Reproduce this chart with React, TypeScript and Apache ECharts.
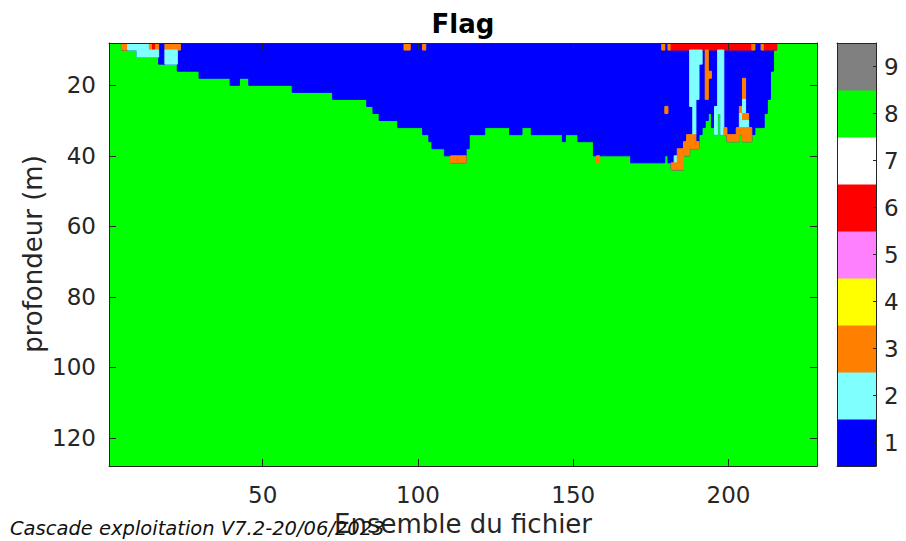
import React, { useEffect, useRef } from "react";
import * as echarts from "echarts";

// Flag colour table, index = flag value - 1
const FLAG_COLORS = [
  "#0000ff", // 1
  "#80ffff", // 2
  "#ff8000", // 3
  "#ffff00", // 4
  "#ff80ff", // 5
  "#ff0000", // 6
  "#ffffff", // 7
  "#00ff00", // 8
  "#808080", // 9
];
const FLAG_VALUES = [1, 2, 3, 4, 5, 6, 7, 8, 9];

// Ensembles and depth cells
const ENSEMBLE_COUNT = 228;
const DEPTH_TOP = 8;
const DEPTH_BOTTOM = 128;
const X_TICKS = [50, 100, 150, 200];
const Y_TICKS = [20, 40, 60, 80, 100, 120];

// Flag 1 from the surface down to this depth; flag 8 below it.
// [first ensemble, last ensemble, depth (m)]
const FLAG1_BOTTOM: [number, number, number][] = [
  [1, 4, 8], [5, 9, 10], [10, 16, 12], [17, 22, 14], [23, 29, 16],
  [30, 39, 18], [40, 42, 20], [43, 45, 18], [46, 59, 20], [60, 72, 22],
  [73, 83, 24], [84, 85, 26], [86, 87, 28], [88, 93, 30], [94, 101, 32],
  [102, 103, 34], [104, 104, 36], [105, 108, 38], [109, 110, 40], [111, 115, 42],
  [116, 116, 38], [117, 121, 34], [122, 129, 32], [130, 133, 34], [134, 136, 32],
  [137, 146, 34], [147, 147, 36], [148, 151, 34], [152, 156, 36], [157, 168, 40],
  [169, 179, 42], [180, 180, 40], [181, 181, 42], [182, 185, 44], [186, 187, 40],
  [188, 190, 38], [191, 191, 34], [192, 192, 32], [193, 193, 30], [194, 194, 28],
  [195, 195, 32], [196, 196, 34], [197, 197, 28], [198, 199, 34], [200, 203, 36],
  [204, 204, 34], [205, 207, 36], [208, 208, 34], [209, 211, 32], [212, 212, 28],
  [213, 213, 24], [214, 214, 16], [215, 215, 10], [216, 228, 8],
];

// Other flags: [first ensemble, last ensemble, depth from, depth to, flag]
const FLAG_PATCHES: [number, number, number, number, number][] = [
  [5, 6, 8, 10, 3], [7, 13, 8, 10, 2], [14, 14, 8, 10, 3], [15, 15, 8, 10, 6],
  [16, 16, 8, 10, 3], [19, 23, 8, 10, 3], [96, 97, 8, 10, 3], [102, 102, 8, 10, 3],
  [179, 179, 8, 10, 3], [181, 181, 8, 10, 3], [182, 207, 8, 10, 6], [208, 208, 8, 10, 3],
  [211, 211, 8, 10, 3], [212, 215, 8, 10, 6],
  [10, 16, 10, 12, 2], [19, 22, 10, 14, 2],
  [111, 115, 40, 42, 3], [158, 158, 40, 42, 3], [180, 180, 26, 28, 3],
  [182, 182, 42, 44, 3], [183, 183, 40, 42, 2], [183, 183, 42, 44, 3],
  [184, 185, 38, 44, 3], [186, 186, 36, 40, 3], [187, 187, 34, 40, 3],
  [188, 188, 10, 26, 2], [188, 188, 34, 38, 3],
  [189, 189, 10, 34, 2], [189, 189, 34, 38, 3],
  [190, 190, 10, 24, 2], [190, 190, 36, 38, 3],
  [191, 191, 10, 14, 2], [193, 193, 10, 24, 3], [194, 194, 16, 18, 3],
  [196, 196, 26, 34, 2], [197, 197, 10, 28, 2], [198, 198, 10, 34, 2],
  [199, 199, 32, 34, 3], [200, 202, 34, 36, 3], [203, 203, 32, 36, 3],
  [204, 204, 26, 28, 3], [204, 204, 28, 32, 2], [204, 204, 32, 34, 3],
  [205, 205, 18, 24, 3], [205, 205, 24, 28, 2], [205, 205, 28, 30, 3],
  [205, 205, 30, 32, 2], [205, 205, 32, 36, 3],
  [206, 206, 28, 30, 3], [206, 206, 30, 32, 2], [206, 206, 32, 36, 3],
  [207, 207, 32, 36, 3],
];

const FONT = '"DejaVu Sans", sans-serif';
const INK = "#262626";

type Cell = [number, number, number, number, number];

// Flag 8 fills every column under the flag-1 layer; the patches go on top.
function buildCells(): Cell[] {
  const cells: Cell[] = [];
  for (const [e0, e1, depth] of FLAG1_BOTTOM) {
    cells.push([e0 - 0.5, e1 + 0.5, depth, DEPTH_BOTTOM, 8]);
  }
  for (const [e0, e1, depth] of FLAG1_BOTTOM) {
    if (depth > DEPTH_TOP) cells.push([e0 - 0.5, e1 + 0.5, DEPTH_TOP, depth, 1]);
  }
  for (const [e0, e1, d0, d1, f] of FLAG_PATCHES) {
    cells.push([e0 - 0.5, e1 + 0.5, d0, d1, f]);
  }
  return cells;
}

function renderCell(params: any, api: any) {
  const p0 = api.coord([api.value(0), api.value(2)]);
  const p1 = api.coord([api.value(1), api.value(3)]);
  const color = FLAG_COLORS[api.value(4) - 1];
  const shape = echarts.graphic.clipRectByRect(
    {
      x: Math.min(p0[0], p1[0]),
      y: Math.min(p0[1], p1[1]),
      width: Math.abs(p1[0] - p0[0]),
      height: Math.abs(p1[1] - p0[1]),
    },
    params.coordSys
  );
  if (!shape) return null;
  return {
    type: "rect",
    shape,
    style: { fill: color, stroke: color, lineWidth: 1 },
  };
}

function boxAxis(extra: any) {
  return {
    z: 10,
    splitLine: { show: false },
    axisLine: { show: true, onZero: false, lineStyle: { color: INK, width: 1 } },
    ...extra,
  };
}

export default function App() {
  const ref = useRef<HTMLDivElement>(null);

  useEffect(() => {
    if (!ref.current) return;
    const chart = echarts.init(ref.current, null, { renderer: "svg" });

    const tickLabel = { fontFamily: FONT, fontSize: 23, color: INK };

    chart.setOption({
      animation: false,
      backgroundColor: "#ffffff",
      grid: [
        { left: 109, top: 43, width: 708, height: 423, show: true, backgroundColor: FLAG_COLORS[7], borderWidth: 0 },
        { left: 837, top: 43, width: 39, height: 423 },
      ],
      xAxis: [
        boxAxis({
          gridIndex: 0, type: "value", position: "bottom",
          min: 0.5, max: ENSEMBLE_COUNT + 0.5,
          axisTick: { show: true, inside: true, length: 7, customValues: X_TICKS, lineStyle: { color: INK } },
          axisLabel: { show: true, margin: 17, customValues: X_TICKS, ...tickLabel },
        }),
        boxAxis({
          gridIndex: 0, type: "value", position: "top",
          min: 0.5, max: ENSEMBLE_COUNT + 0.5,
          axisTick: { show: true, inside: true, length: 7, customValues: X_TICKS, lineStyle: { color: INK } },
          axisLabel: { show: false },
        }),
        boxAxis({
          gridIndex: 1, type: "value", position: "bottom", min: 0, max: 1,
          axisTick: { show: false }, axisLabel: { show: false },
        }),
        boxAxis({
          gridIndex: 1, type: "value", position: "top", min: 0, max: 1,
          axisTick: { show: false }, axisLabel: { show: false },
        }),
      ],
      yAxis: [
        boxAxis({
          gridIndex: 0, type: "value", position: "left", inverse: true,
          min: DEPTH_TOP, max: DEPTH_BOTTOM,
          axisTick: { show: true, inside: true, length: 7, customValues: Y_TICKS, lineStyle: { color: INK } },
          axisLabel: { show: true, margin: 13, customValues: Y_TICKS, ...tickLabel },
        }),
        boxAxis({
          gridIndex: 0, type: "value", position: "right", inverse: true,
          min: DEPTH_TOP, max: DEPTH_BOTTOM,
          axisTick: { show: true, inside: true, length: 7, customValues: Y_TICKS, lineStyle: { color: INK } },
          axisLabel: { show: false },
        }),
        boxAxis({
          gridIndex: 1, type: "value", position: "right", min: 0.5, max: 9.5,
          axisTick: { show: true, inside: true, length: 3, customValues: FLAG_VALUES, lineStyle: { color: INK } },
          axisLabel: { show: true, margin: 8, customValues: FLAG_VALUES, ...tickLabel },
        }),
        boxAxis({
          gridIndex: 1, type: "value", position: "left", min: 0.5, max: 9.5,
          axisTick: { show: false }, axisLabel: { show: false },
        }),
      ],
      series: [
        {
          type: "custom",
          name: "Flag",
          xAxisIndex: 0,
          yAxisIndex: 0,
          clip: true,
          renderItem: renderCell,
          encode: { x: [0, 1], y: [2, 3] },
          data: buildCells(),
        },
        {
          type: "custom",
          name: "colorbar",
          xAxisIndex: 2,
          yAxisIndex: 2,
          clip: true,
          renderItem: renderCell,
          encode: { x: [0, 1], y: [2, 3] },
          data: FLAG_VALUES.map((v) => [0, 1, v - 0.5, v + 0.5, v]),
        },
      ],
      graphic: [
        {
          type: "text", x: 463, y: 24, z: 20,
          style: {
            text: "Flag", font: `bold 26px ${FONT}`, fill: "#000",
            align: "center", verticalAlign: "middle",
          },
        },
        {
          type: "text", x: 463, y: 524, z: 20,
          style: {
            text: "Ensemble du fichier", font: `26px ${FONT}`, fill: INK,
            align: "center", verticalAlign: "middle",
          },
        },
        {
          type: "text", x: 33, y: 254, z: 20, rotation: Math.PI / 2,
          style: {
            text: "profondeur (m)", font: `26px ${FONT}`, fill: INK,
            align: "center", verticalAlign: "middle",
          },
        },
        {
          type: "text", x: 10, y: 528, z: 21,
          style: {
            text: "Cascade exploitation V7.2-20/06/2023", font: `italic 19.5px ${FONT}`, fill: "#111",
            align: "left", verticalAlign: "middle",
          },
        },
      ],
    });

    return () => chart.dispose();
  }, []);

  return (
    <div
      ref={ref}
      style={{ position: "fixed", left: 0, top: 0, width: 906, height: 541 }}
    />
  );
}
